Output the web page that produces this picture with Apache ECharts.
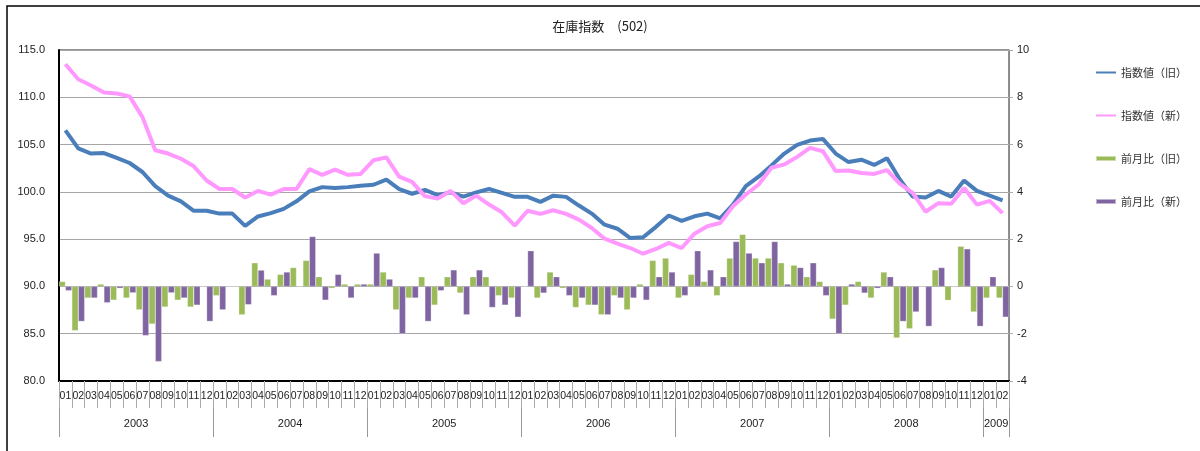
<!DOCTYPE html>
<html><head><meta charset="utf-8">
<script src="https://cdn.jsdelivr.net/npm/echarts@6/dist/echarts.min.js"></script>
<style>html,body{margin:0;padding:0;background:#fff}#c{width:1200px;height:451px}</style>
</head><body><div id="c"></div>
<script>
const months = ['01','02','03','04','05','06','07','08','09','10','11','12',
 '01','02','03','04','05','06','07','08','09','10','11','12',
 '01','02','03','04','05','06','07','08','09','10','11','12',
 '01','02','03','04','05','06','07','08','09','10','11','12',
 '01','02','03','04','05','06','07','08','09','10','11','12',
 '01','02','03','04','05','06','07','08','09','10','11','12',
 '01','02'];
const years = ['2003','2004','2005','2006','2007','2008','2009'];
const monthsPerYear = [12,12,12,12,12,12,2];
const leftTicks = [80,85,90,95,100,105,110,115];
const rightTicks = [-4,-2,0,2,4,6,8,10];
const indexOld = [106.5,104.6,104.05,104.1,103.6,103.05,102.1,100.6,99.6,99.0,98.0,98.0,
 97.7,97.7,96.4,97.4,97.75,98.2,99.0,100.05,100.5,100.4,100.5,100.65,
 100.75,101.3,100.3,99.8,100.2,99.65,99.95,99.5,99.95,100.3,99.9,99.47,
 99.47,98.94,99.6,99.47,98.55,97.7,96.53,96.1,95.12,95.2,96.3,97.5,
 96.93,97.42,97.7,97.2,98.66,100.6,101.6,102.8,104.05,104.96,105.42,105.6,
 104.05,103.15,103.4,102.85,103.55,101.3,99.5,99.4,100.1,99.5,101.2,100.1,
 99.6,99.1];
const indexNew = [113.5,111.9,111.25,110.5,110.4,110.1,107.9,104.4,104.05,103.5,102.7,101.2,
 100.3,100.3,99.4,100.1,99.7,100.3,100.3,102.4,101.8,102.35,101.8,101.9,
 103.35,103.65,101.6,101.05,99.55,99.3,100.1,98.8,99.6,98.66,97.84,96.43,
 98.0,97.67,98.06,97.67,97.07,96.18,95.05,94.52,94.06,93.46,93.96,94.6,
 94.06,95.58,96.36,96.71,98.48,99.72,100.78,102.55,102.9,103.7,104.65,104.3,
 102.2,102.25,102.0,101.9,102.3,100.85,99.9,97.9,98.8,98.75,100.4,98.65,
 99.05,97.75];
const momOld = [0.21,-1.87,-0.49,0.1,-0.58,-0.49,-0.99,-1.59,-0.87,-0.58,-0.87,0,
 -0.39,0,-1.2,1.0,0.31,0.51,0.8,1.1,0.41,-0.08,0.1,0.1,
 0.1,0.61,-0.99,-0.49,0.41,-0.79,0.41,-0.28,0.41,0.41,-0.39,-0.49,
 0,-0.49,0.61,-0.08,-0.89,-0.79,-1.2,-0.39,-0.99,0.1,1.1,1.2,
 -0.49,0.51,0.21,-0.39,1.2,2.2,1.2,1.2,1.0,0.9,0.41,0.21,
 -1.38,-0.79,0.21,-0.49,0.61,-2.18,-1.79,0,0.7,-0.59,1.7,-1.08,
 -0.49,-0.49];
const momNew = [-0.18,-1.48,-0.49,-0.69,-0.08,-0.27,-2.08,-3.18,-0.27,-0.49,-0.79,-1.48,
 -0.99,0,-0.77,0.69,-0.39,0.61,0,2.11,-0.58,0.51,-0.49,0.1,
 1.41,0.31,-2.0,-0.49,-1.48,-0.18,0.7,-1.2,0.7,-0.89,-0.79,-1.3,
 1.51,-0.28,0.41,-0.39,-0.49,-0.79,-1.2,-0.49,-0.49,-0.58,0.41,0.61,
 -0.39,1.51,0.7,0.41,1.9,1.41,1.0,1.9,0.1,0.8,1.0,-0.39,
 -2.0,0.1,-0.28,-0.08,0.41,-1.48,-1.08,-1.69,0.8,0,1.59,-1.69,
 0.41,-1.3];

const yearBounds = [0];
const yearCentres = [];
monthsPerYear.forEach((n) => {
  const start = yearBounds[yearBounds.length - 1];
  yearCentres.push(start + n / 2);
  yearBounds.push(start + n);
});
const monthBounds = months.map((m, i) => i).concat([months.length]);

const FONT = 'Liberation Sans, "Noto Sans CJK JP", sans-serif';
const LINE_ICON = 'path://M0,0 H40 V4 H0 Z';
const chart = echarts.init(document.getElementById('c'), null, {renderer: 'canvas'});
chart.setOption({
  animation: false,
  backgroundColor: '#fff',
  textStyle: {fontFamily: FONT},
  title: {
    text: '在庫指数　(502)', left: 'center', top: 15,
    textStyle: {fontSize: 13, fontWeight: 'normal', color: '#222', fontFamily: '"Noto Sans CJK JP", sans-serif'}
  },
  graphic: [{
    type: 'rect', shape: {x: 7, y: 6, width: 1400, height: 700}, silent: true,
    style: {fill: null, stroke: '#000', lineWidth: 1.5}
  }],
  legend: {
    orient: 'vertical', left: 1090, top: 62,
    itemWidth: 20, itemHeight: 5, itemGap: 32,
    textStyle: {fontSize: 11, color: '#333', fontFamily: '"Noto Sans CJK JP", sans-serif'},
    data: [
      {name: '指数値（旧）', icon: LINE_ICON},
      {name: '指数値（新）', icon: LINE_ICON},
      {name: '前月比（旧）', icon: 'rect'},
      {name: '前月比（新）', icon: 'rect'}
    ]
  },
  grid: {left: 59, right: 191, top: 50, bottom: 70, show: true, borderColor: '#222', borderWidth: 1},
  xAxis: [{
    type: 'category', data: months, position: 'bottom',
    axisLine: {onZero: false, lineStyle: {color: '#000', width: 2}},
    axisTick: {show: false},
    axisLabel: {interval: 0, margin: 10, fontSize: 10.5, color: '#222', fontFamily: FONT},
    splitLine: {show: false}
  }, {
    type: 'value', min: 0, max: months.length, position: 'bottom',
    axisLine: {show: false, onZero: false},
    axisTick: {show: true, customValues: yearBounds, length: 56, lineStyle: {color: '#999'}},
    axisLabel: {
      customValues: yearCentres, margin: 37, fontSize: 11, color: '#222', fontFamily: FONT,
      formatter: function (v) { const k = yearCentres.indexOf(v); return k >= 0 ? years[k] : ''; }
    },
    splitLine: {show: false}
  }, {
    type: 'value', min: 0, max: months.length, position: 'bottom',
    axisLine: {show: false, onZero: false},
    axisTick: {show: true, customValues: monthBounds, length: 27, lineStyle: {color: '#aaa', width: 1}},
    axisLabel: {show: false},
    splitLine: {show: false}
  }],
  yAxis: [{
    type: 'value', min: leftTicks[0], max: leftTicks[leftTicks.length - 1], interval: 5,
    axisLine: {show: true, onZero: false, lineStyle: {color: '#000', width: 2}},
    axisTick: {show: false},
    axisLabel: {margin: 14, fontSize: 11, color: '#222', fontFamily: FONT, formatter: v => v.toFixed(1)},
    splitLine: {show: true, lineStyle: {color: '#a6a6a6', width: 1}}
  }, {
    type: 'value', min: rightTicks[0], max: rightTicks[rightTicks.length - 1], interval: 2,
    position: 'right',
    axisLine: {show: true, onZero: false, lineStyle: {color: '#888', width: 1}},
    axisTick: {show: true, length: 4, lineStyle: {color: '#aaa'}},
    axisLabel: {margin: 8, fontSize: 11, color: '#222', fontFamily: FONT},
    splitLine: {show: false}
  }],
  series: [{
    name: '前月比（旧）', type: 'bar', xAxisIndex: 0, yAxisIndex: 1, data: momOld,
    barGap: '0%', barCategoryGap: '0%',
    itemStyle: {color: '#9bbb59', borderColor: 'rgba(255,255,255,0.5)', borderWidth: 0.5}
  }, {
    name: '前月比（新）', type: 'bar', xAxisIndex: 0, yAxisIndex: 1, data: momNew,
    barGap: '0%', barCategoryGap: '0%',
    itemStyle: {color: '#8064a2', borderColor: 'rgba(255,255,255,0.5)', borderWidth: 0.5}
  }, {
    name: '指数値（旧）', type: 'line', xAxisIndex: 0, yAxisIndex: 0, data: indexOld,
    symbol: 'none', lineStyle: {color: '#4a7ebb', width: 4}, itemStyle: {color: '#4a7ebb'}, z: 3
  }, {
    name: '指数値（新）', type: 'line', xAxisIndex: 0, yAxisIndex: 0, data: indexNew,
    symbol: 'none', lineStyle: {color: '#ff99ff', width: 4}, itemStyle: {color: '#ff99ff'}, z: 3
  }]
});
</script></body></html>
